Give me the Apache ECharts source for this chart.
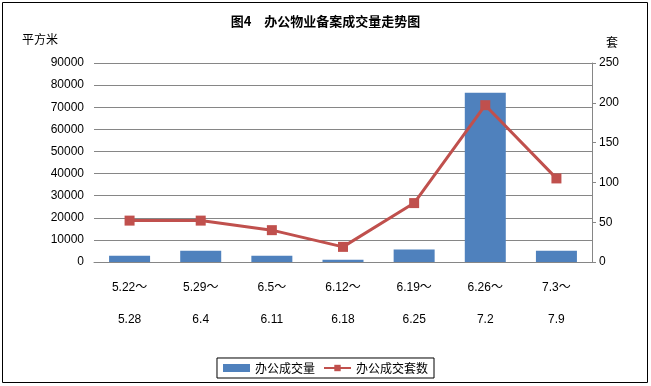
<!DOCTYPE html>
<html><head><meta charset="utf-8">
<script src="https://cdn.jsdelivr.net/npm/echarts@6/dist/echarts.min.js"></script>
<style>html,body{margin:0;padding:0;background:#fff}#c{width:651px;height:386px}</style>
</head><body><div id="c"></div>
<script>
var categories = ['5.22～\n5.28','5.29～\n6.4','6.5～\n6.11','6.12～\n6.18','6.19～\n6.25','6.26～\n7.2','7.3～\n7.9'];
var areaValues = [2800, 5100, 2800, 1000, 5600, 76600, 5100];
var unitValues = [52, 52, 40, 19, 74, 197, 105];
var leftTicks = {min:0, max:90000, interval:10000};
var rightTicks = {min:0, max:250, interval:50};

var FONT = 'Liberation Sans, Noto Sans CJK SC, sans-serif';
var chart = echarts.init(document.getElementById('c'), null, {renderer:'canvas'});
chart.setOption({
  animation:false,
  backgroundColor:'#fff',
  title:{text:'图4　办公物业备案成交量走势图', left:'center', top:10,
    textStyle:{fontSize:13, fontWeight:'bold', color:'#000', fontFamily:'Noto Sans CJK SC'}},
  graphic:[
    {type:'rect', shape:{x:2.5,y:2.5,width:645,height:380}, style:{fill:'none', stroke:'#000', lineWidth:1}, silent:true},
    {type:'text', left:22, top:33, style:{text:'平方米', fontSize:12, fontFamily:'Noto Sans CJK SC', fill:'#000'}},
    {type:'text', left:606, top:36, style:{text:'套', fontSize:12, fontFamily:'Noto Sans CJK SC', fill:'#000'}}
  ],
  grid:{left:94, right:59, top:63, bottom:124},
  legend:{
    bottom:8, left:'center',
    data:[{name:'办公成交量', icon:'rect'}, {name:'办公成交套数'}],
    itemWidth:27, itemHeight:8, itemGap:8,
    borderColor:'#000', borderWidth:1, padding:[4,6],
    textStyle:{fontSize:12, color:'#000', fontFamily:'Noto Sans CJK SC'}
  },
  xAxis:{type:'category', data:categories,
    axisLine:{lineStyle:{color:'#868686'}}, axisTick:{show:false},
    axisLabel:{color:'#000', fontSize:12, fontFamily:FONT, lineHeight:32, margin:10, interval:0}},
  yAxis:[
    {type:'value', min:leftTicks.min, max:leftTicks.max, interval:leftTicks.interval,
     axisLine:{show:false}, axisTick:{show:false},
     splitLine:{lineStyle:{color:'#868686', width:1}},
     axisLabel:{color:'#000', fontSize:12, fontFamily:FONT, margin:10, formatter:function(v){return String(v);}}},
    {type:'value', min:rightTicks.min, max:rightTicks.max, interval:rightTicks.interval,
     axisLine:{show:true, lineStyle:{color:'#868686'}},
     axisTick:{show:true, inside:false, length:4, lineStyle:{color:'#868686'}},
     splitLine:{show:false},
     axisLabel:{color:'#000', fontSize:12, fontFamily:FONT, margin:7}}
  ],
  series:[
    {name:'办公成交量', type:'bar', yAxisIndex:0, data:areaValues, barWidth:41,
     itemStyle:{color:'#4F81BD'}},
    {name:'办公成交套数', type:'line', yAxisIndex:1, data:unitValues,
     symbol:'rect', symbolSize:10,
     lineStyle:{color:'#C0504D', width:3}, itemStyle:{color:'#C0504D'}}
  ]
});
</script></body></html>
